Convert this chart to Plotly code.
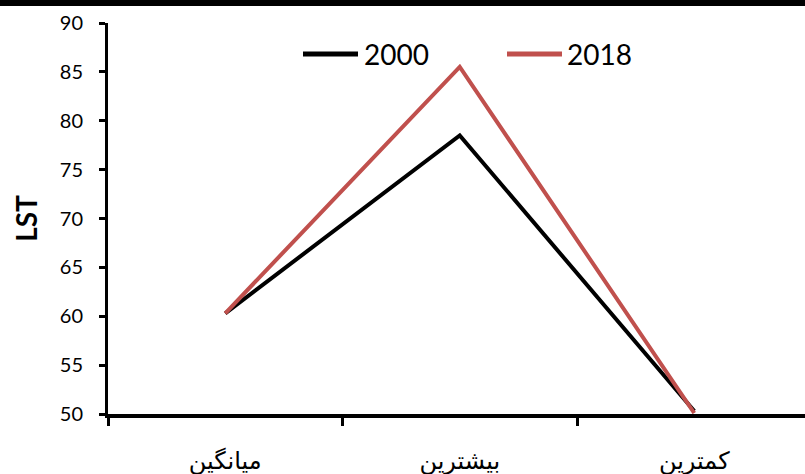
import plotly.graph_objects as go

# Land surface temperature statistics (mean / max / min) per year
categories = ["میانگین", "بیشترین", "کمترین"]
series_names = ["2000", "2018"]
lst_2000 = [60.3, 78.5, 50.3]
lst_2018 = [60.3, 85.5, 50.1]
series_values = [lst_2000, lst_2018]
series_colors = ["#000000", "#C0504D"]

y_ticks = [50, 55, 60, 65, 70, 75, 80, 85, 90]

W, H = 805, 474
ML, MR, MT, MB = 108, 0, 23, 60
PW, PH = W - ML - MR, H - MT - MB


def px_x(px):
    return (px - ML) / PW


def px_y(py):
    return (H - MB - py) / PH


fig = go.Figure()
for name, vals, col in zip(series_names, series_values, series_colors):
    fig.add_trace(go.Scatter(
        x=categories, y=vals, mode="lines", name=name,
        line=dict(color=col, width=4), showlegend=False,
    ))

shapes = [
    # dark band along the top edge
    dict(type="rect", xref="paper", yref="paper",
         x0=px_x(-5), x1=px_x(W + 5), y0=px_y(6), y1=px_y(-5),
         fillcolor="black", line_width=0, layer="above"),
]
annotations = []

# hand-placed legend: line swatch followed by label
legend_items = [(303, 358, 362), (507, 562, 565)]
for (lx0, lx1, tx), name, col in zip(legend_items, series_names, series_colors):
    shapes.append(dict(type="line", xref="paper", yref="paper",
                       x0=px_x(lx0), x1=px_x(lx1), y0=px_y(54), y1=px_y(54),
                       line=dict(color=col, width=5)))
    annotations.append(dict(xref="paper", yref="paper", x=px_x(tx), y=px_y(54),
                            text=name, showarrow=False, xanchor="left", yanchor="middle",
                            font=dict(family="Lato", size=28, color="black")))

fig.update_layout(
    width=W, height=H,
    margin=dict(l=ML, r=MR, t=MT, b=MB, pad=0),
    paper_bgcolor="white", plot_bgcolor="white",
    shapes=shapes, annotations=annotations,
    xaxis=dict(
        type="category", range=[-0.5, -0.5 + (W - ML) / 234.5],
        showline=True, linecolor="black", linewidth=4,
        ticks="outside", tickson="boundaries", ticklen=8, tickwidth=3, tickcolor="black",
        showgrid=False, zeroline=False,
        tickfont=dict(family="DejaVu Sans", size=24, color="black"),
        ticklabelstandoff=22,
    ),
    yaxis=dict(
        range=[50, 90], tickvals=y_ticks,
        showline=True, linecolor="black", linewidth=3,
        ticks="outside", ticklen=6, tickwidth=3, tickcolor="black",
        showgrid=False, zeroline=False,
        tickfont=dict(family="Lato", size=20, color="black"),
        ticklabelstandoff=12,
        title=dict(text="<b>LST</b>", font=dict(family="Lato", size=28, color="black"),
                   standoff=14),
    ),
)

fig.write_html("out.html")
